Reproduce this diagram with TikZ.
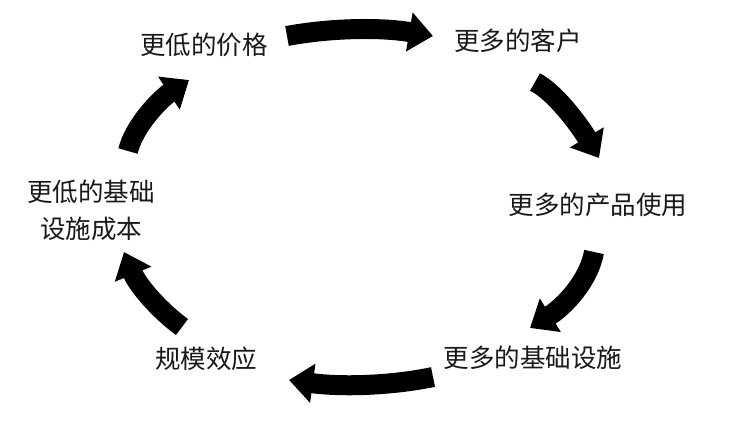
\documentclass[tikz,border=0pt]{standalone}
\usepackage{fontspec}
\newfontfamily\cjk{Noto Sans CJK SC}
\usetikzlibrary{arrows.meta}
\begin{document}
\begin{tikzpicture}[x=1pt,y=-1pt,
  lbl/.style={font=\cjk\fontsize{25.5}{37}\selectfont, text=black!90, inner sep=0pt, align=center},
  bigarrow/.style={line width=20pt, black, -{Triangle[length=24pt,width=38pt]}}]
\useasboundingbox (0,0) rectangle (750,421);
\fill[white] (0,0) rectangle (750,421);
% labels
\node[lbl] (price) at (204,45) {更低的价格};
\node[lbl] (cust) at (518,41) {更多的客户};
\node[lbl] (usage) at (598,205) {更多的产品使用};
\node[lbl] (infra) at (533,358) {更多的基础设施};
\node[lbl] (scale) at (206,359) {规模效应};
\node[lbl] (cost) at (91,210) {更低的基础\\设施成本};
% arrow end points
\coordinate (a1s) at (287,36);  \coordinate (a1e) at (433,36);
\coordinate (a2s) at (535,82);  \coordinate (a2e) at (599,158);
\coordinate (a3s) at (594,252); \coordinate (a3e) at (530,328);
\coordinate (a4s) at (433,377); \coordinate (a4e) at (289,380);
\coordinate (a5s) at (182,327); \coordinate (a5e) at (124,252);
\coordinate (a6s) at (128,151); \coordinate (a6e) at (189,80);
% arrows
\draw[bigarrow] (a1s) .. controls (330,28) and (380,27) .. (a1e);
\draw[bigarrow] (a2s) .. controls (555,92) and (580,126) .. (a2e);
\draw[bigarrow] (a3s) .. controls (589,280) and (565,306) .. (a3e);
\draw[bigarrow] (a4s) .. controls (390,386) and (340,387) .. (a4e);
\draw[bigarrow] (a5s) .. controls (160,311) and (138,286) .. (a5e);
\draw[bigarrow] (a6s) .. controls (134,126) and (160,99) .. (a6e);
\end{tikzpicture}
\end{document}
